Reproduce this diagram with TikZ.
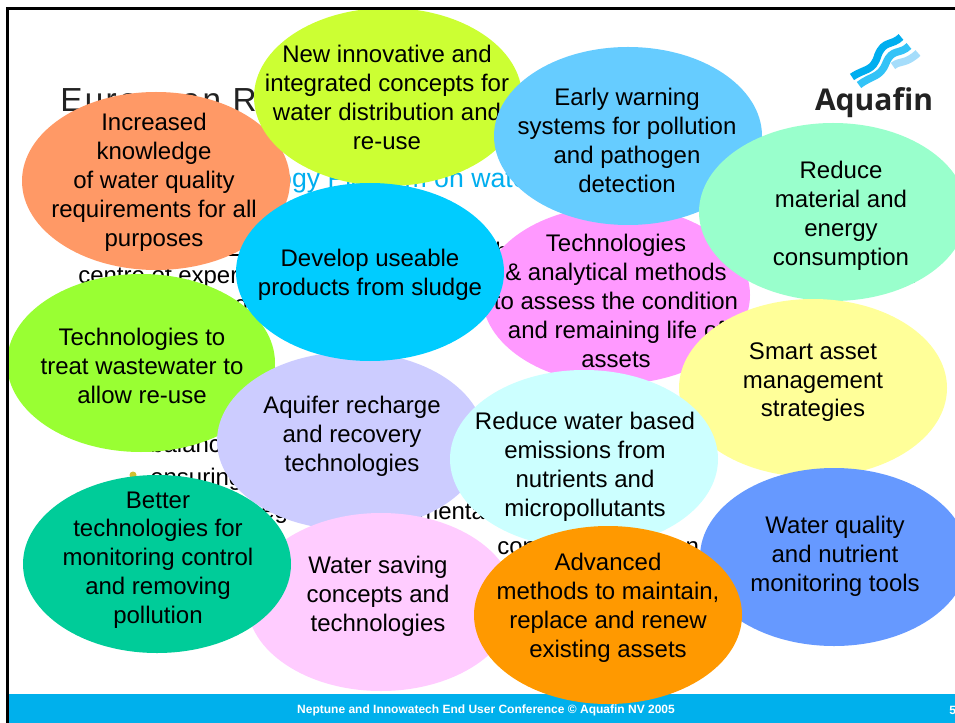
\documentclass[tikz,border=0pt]{standalone}
\usepackage{fontspec}
\setmainfont{Liberation Sans}
\newfontfamily\logofont{Open Sans}
\usetikzlibrary{shapes.geometric}
\definecolor{cSalmon}{HTML}{FF9966}
\definecolor{cLime}{HTML}{CCFF33}
\definecolor{cSky}{HTML}{66CCFF}
\definecolor{cMint}{HTML}{99FFCC}
\definecolor{cCyan}{HTML}{00CCFF}
\definecolor{cMagenta}{HTML}{FF99FF}
\definecolor{cYellow}{HTML}{FFFF99}
\definecolor{cGreen}{HTML}{99FF33}
\definecolor{cLav}{HTML}{CCCCFF}
\definecolor{cIce}{HTML}{CCFFFF}
\definecolor{cTeal}{HTML}{00CC99}
\definecolor{cPink}{HTML}{FFCCFF}
\definecolor{cOrange}{HTML}{FF9900}
\definecolor{cBlue}{HTML}{6699FF}
\definecolor{cBar}{HTML}{00B0EC}
\definecolor{cTitle}{HTML}{222222}
\definecolor{cWaveA}{HTML}{00AEEF}
\definecolor{cWaveB}{HTML}{33C3F7}
\definecolor{cWaveC}{HTML}{A5DDFB}
\definecolor{cBullet}{HTML}{D0C030}
\tikzset{
  blobshape/.style={ellipse,minimum width=201pt,minimum height=133.5pt,inner sep=0pt,draw=none},
  blobtext/.style={align=center,inner sep=0pt,text=black,yshift=-1.6pt,font=\fontsize{18}{21.7}\selectfont},
  backtext/.style={anchor=base west,inner sep=0pt,text=black,font=\fontsize{18}{21.7}\selectfont},
  wave/.style={line width=5.6pt,line cap=butt}
}
\newcommand{\blob}[7]{%
  \node[blobshape,fill=#4] (#1) at (#2,#3) {};
  \node[blobtext] (#1t) at (#5,#6) {#7};
}
\begin{document}
\begin{tikzpicture}[x=.75pt,y=-.75pt]
\clip (0,0) rectangle (955,723);
\fill[white] (0,0) rectangle (955,723);
% background slide
\node[anchor=base west,inner sep=0pt,text=cTitle,font=\fontsize{25}{29}\selectfont\addfontfeature{LetterSpace=7}] (title) at (60,112) {European R};
\node[anchor=base west,inner sep=0pt,text=cWaveA,font=\fontsize{20}{24}\selectfont] (subtitle) at (185,188) {Technology Platform on water};
\node[backtext] (b1) at (78,283) {centre of expertise};
\node[backtext] (b2) at (495,260) {h};
\node[backtext] (b3) at (234,312) {o};
\node[backtext] (b4) at (742,279) {y};
\node[backtext] (b5) at (905,279) {g};
\node[backtext] (b6) at (150,452) {balance};
\node[backtext] (b7) at (150,485) {ensuring};
\node[backtext] (b8) at (261,518) {eg};
\node[backtext] (b9) at (418,519) {mental};
\node[backtext] (b10) at (497,554) {con};
\node[backtext] (b11) at (672,554) {on};
\fill[black] (228,254) rectangle (247,256);
\fill[cBullet] (133,475) circle (3.5);
% logo
\draw[wave,cWaveC] (893,66) .. controls (900,60) and (905,65) .. (918,53);
\draw[wave,cWaveB] (859,85) .. controls (872,75) and (880,78) .. (886,63) .. controls (892,48) and (900,55) .. (909,46);
\draw[wave,cWaveA] (852,77) .. controls (865,68) and (873,72) .. (878,55) .. controls (884,40) and (892,46) .. (901,37);
\node[inner sep=0pt,anchor=base,text=cTitle,font=\logofont\bfseries\fontsize{22.5}{26}\selectfont] (logo) at (874,111) {Aquafin};
% ellipses, back to front
\blob{tech}{616}{295}{cMagenta}{616}{299}{Technologies\\\& analytical methods\\to assess the condition\\and remaining life of\\assets}
\blob{incr}{156}{181}{cSalmon}{154}{180.5}{Increased\\knowledge\\of water quality\\requirements for all\\purposes}
\blob{newi}{388}{97}{cLime}{387}{95.5}{New innovative and\\integrated concepts for\\water distribution and\\re-use}
\blob{early}{628}{136}{cSky}{627}{138}{Early warning\\systems for pollution\\and pathogen\\detection}
\blob{treat}{141}{363}{cGreen}{142}{364}{Technologies to\\treat wastewater to\\allow re-use}
\blob{aquif}{351}{441}{cLav}{352}{434}{Aquifer recharge\\and recovery\\technologies}
\blob{sludge}{370}{272}{cCyan}{370}{273}{Develop useable\\products from sludge}
\blob{mater}{833}{212}{cMint}{841}{213.5}{Reduce\\material and\\energy\\consumption}
\blob{smart}{813}{388}{cYellow}{813}{380}{Smart asset\\management\\strategies}
\blob{emis}{584}{459}{cIce}{585}{464.5}{Reduce water based\\emissions from\\nutrients and\\micropollutants}
\blob{quality}{834}{557}{cBlue}{835}{554}{Water quality\\and nutrient\\monitoring tools}
\blob{saving}{381}{602}{cPink}{378}{594}{Water saving\\concepts and\\technologies}
\blob{better}{157}{564}{cTeal}{158}{558}{Better\\technologies for\\monitoring control\\and removing\\pollution}
% footer under the last ellipse
\fill[cBar] (9,694) rectangle (955,723);
\draw[black,line width=2.2pt] (7.5,723) -- (7.5,8.5) -- (955,8.5);
\blob{adv}{608}{615}{cOrange}{608}{605.5}{Advanced\\methods to maintain,\\replace and renew\\existing assets}
\node[inner sep=0pt,text=white,font=\bfseries\fontsize{9}{11}\selectfont] (foot) at (486,710) {Neptune and Innowatech End User Conference © Aquafin NV 2005};
\node[inner sep=0pt,anchor=west,text=white,font=\bfseries\fontsize{9}{11}\selectfont] (page) at (949,710) {5};
\end{tikzpicture}
\end{document}
